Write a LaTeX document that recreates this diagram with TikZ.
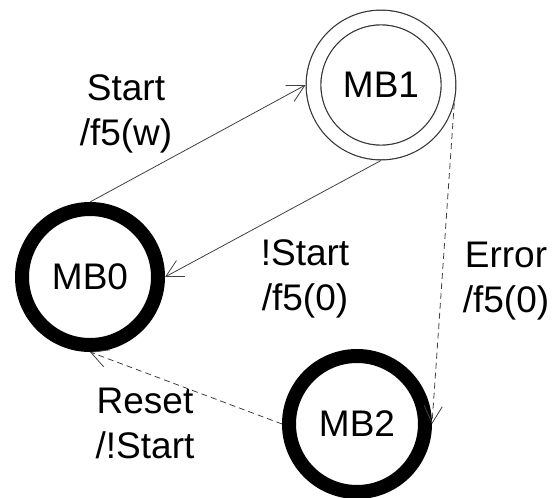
\documentclass[tikz,border=0pt]{standalone}
\usepackage{fontspec}
\setmainfont{Liberation Sans}
\usetikzlibrary{arrows.meta}

\begin{document}
\begin{tikzpicture}
[x=1pt,y=-1pt,
every node/.style={align=center,font=\fontsize{37}{45}\selectfont},
bold state/.style={shape=circle,draw,line width=14pt,minimum size=136pt},
final state/.style={shape=circle,draw=black!80,double,line width=1.2pt,double distance=13.5pt,minimum size=135pt,outer sep=8pt},
trans/.style={draw=black!75,line width=0.8pt,-{Straight Barb[length=17pt,width=18pt]}},
fault/.style={trans,dash pattern=on 6pt off 4pt}]

\useasboundingbox (0,0) rectangle (552,498);

\node[bold state] (mb0) at (90,277) {MB0};
\node[final state] (mb1) at (381,85) {MB1};
\node[bold state] (mb2) at (357,424) {MB2};

\draw[trans] (mb0.north) -- (mb1.west);
\draw[trans] (mb1.south) -- (mb0.east);
\draw[fault] (mb1.-14) -- (mb2.east);
\draw[fault] (mb2.west) -- (mb0.south);

\node (start) at (126,114) {Start\\/f5(w)};
\node (nstart) at (305,279) {!Start\\/f5(0)};
\node (error) at (506,281) {Error\\/f5(0)};
\node (reset) at (145,423) {Reset\\/!Start};
\end{tikzpicture}
\end{document}
